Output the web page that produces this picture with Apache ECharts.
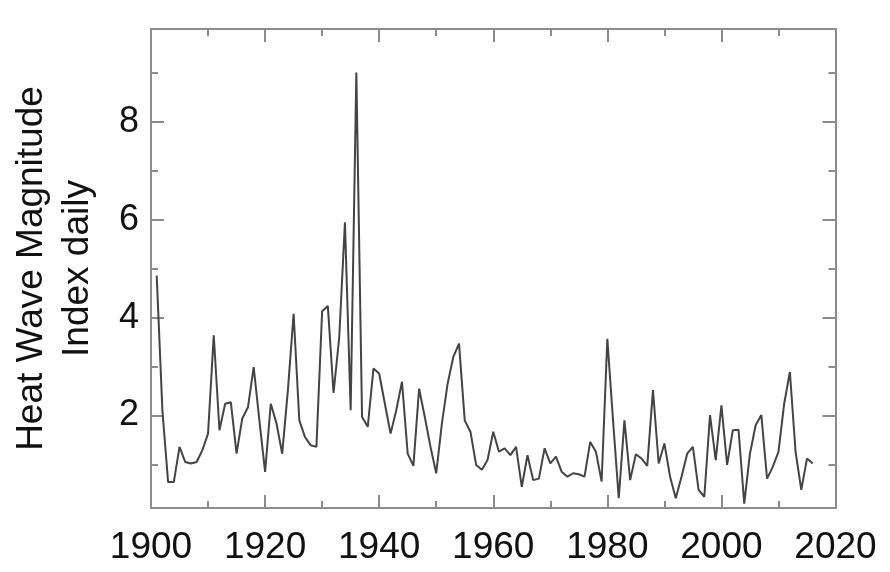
<!DOCTYPE html>
<html>
<head>
<meta charset="utf-8">
<script src="https://cdn.jsdelivr.net/npm/echarts@6/dist/echarts.min.js"></script>
<style>
html,body{margin:0;padding:0;background:#fff;}
#chart{width:890px;height:572px;}
</style>
</head>
<body>
<div id="chart"></div>
<script>
var years = [1901,1902,1903,1904,1905,1906,1907,1908,1909,1910,
1911,1912,1913,1914,1915,1916,1917,1918,1919,1920,
1921,1922,1923,1924,1925,1926,1927,1928,1929,1930,
1931,1932,1933,1934,1935,1936,1937,1938,1939,1940,
1941,1942,1943,1944,1945,1946,1947,1948,1949,1950,
1951,1952,1953,1954,1955,1956,1957,1958,1959,1960,
1961,1962,1963,1964,1965,1966,1967,1968,1969,1970,
1971,1972,1973,1974,1975,1976,1977,1978,1979,1980,
1981,1982,1983,1984,1985,1986,1987,1988,1989,1990,
1991,1992,1993,1994,1995,1996,1997,1998,1999,2000,
2001,2002,2003,2004,2005,2006,2007,2008,2009,2010,
2011,2012,2013,2014,2015,2016];
var hwmid = [4.86,2.1,0.64,0.64,1.36,1.05,1.02,1.05,1.29,1.63,
3.64,1.70,2.24,2.27,1.22,1.94,2.17,2.99,1.9,0.85,
2.24,1.84,1.22,2.52,4.08,1.90,1.56,1.39,1.36,4.13,
4.24,2.46,3.6,5.95,2.11,9.01,1.97,1.77,2.96,2.86,
2.24,1.63,2.11,2.69,1.22,0.97,2.55,1.97,1.36,0.82,
1.84,2.65,3.2,3.47,1.90,1.67,0.99,0.89,1.09,1.67,
1.26,1.33,1.19,1.36,0.54,1.19,0.68,0.71,1.33,1.02,
1.16,0.85,0.75,0.82,0.80,0.75,1.46,1.26,0.65,3.57,
1.9,0.31,1.90,0.68,1.21,1.12,0.97,2.52,1.02,1.43,
0.75,0.31,0.75,1.22,1.36,0.48,0.34,2.01,1.09,2.21,
0.99,1.70,1.71,0.20,1.22,1.80,2.01,0.71,0.95,1.26,
2.24,2.89,1.26,0.48,1.12,1.02];
var xTickLabels = [1900,1920,1940,1960,1980,2000,2020];
var yMajor = [2,4,6,8];
var yMinor = [1,3,5,7,9];
var yTitle = 'Heat Wave Magnitude\nIndex daily';

var seriesData = years.map(function(y,i){return [y, hwmid[i]];});
var FONT = "'Liberation Sans', Arial, sans-serif";
var frameColor = '#8c8c8c';
var xMin = xTickLabels[0], xMax = xTickLabels[xTickLabels.length-1];
var yMin = 0.11, yMax = 9.9;

function xAx(pos, interval, len, showLine, showLabel){
  return {
    type:'value', position:pos, min:xMin, max:xMax, interval:interval,
    splitLine:{show:false},
    axisLine:{show:showLine, onZero:false, lineStyle:{color:frameColor,width:2}},
    axisTick:{show:true, inside:true, length:len, lineStyle:{color:frameColor,width:2}},
    axisLabel:{show:showLabel, margin:21, fontSize:37, fontFamily:FONT, color:'#111',
      formatter:function(v){return xTickLabels.indexOf(v)>=0 ? String(v) : '';}}
  };
}
function yAx(pos, ticks, len, showLine, showLabel, withName){
  var a = {
    type:'value', position:pos, min:yMin, max:yMax,
    splitLine:{show:false},
    axisLine:{show:showLine, onZero:false, lineStyle:{color:frameColor,width:2}},
    axisTick:{show:true, inside:true, length:len, customValues:ticks, lineStyle:{color:frameColor,width:2}},
    axisLabel:{show:showLabel, customValues:yMajor, margin:12, fontSize:36, fontFamily:FONT, color:'#111'}
  };
  if(withName){
    a.name = yTitle; a.nameLocation='middle'; a.nameGap=50; a.nameRotate=90;
    a.nameTextStyle = {fontSize:37, fontFamily:FONT, color:'#111', lineHeight:46, align:'center'};
  }
  return a;
}

var chart = echarts.init(document.getElementById('chart'), null, {renderer:'canvas'});
chart.setOption({
  animation:false,
  backgroundColor:'#fff',
  grid:{left:151, right:54.5, top:29, bottom:64, containLabel:false},
  xAxis:[
    xAx('bottom',20,13,true,true),
    xAx('bottom',10,7,false,false),
    xAx('top',20,13,true,false),
    xAx('top',10,7,false,false)
  ],
  yAxis:[
    yAx('left',yMajor,13,true,true,true),
    yAx('left',yMinor,7,false,false,false),
    yAx('right',yMajor,13,true,false,false),
    yAx('right',yMinor,7,false,false,false)
  ],
  series:[{
    type:'line', data:seriesData, xAxisIndex:0, yAxisIndex:0,
    showSymbol:false, symbol:'none',
    lineStyle:{color:'#444', width:2},
    clip:true
  }]
});
</script>
</body>
</html>
